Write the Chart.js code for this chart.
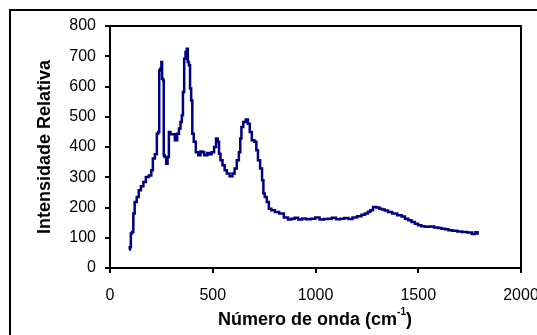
<!DOCTYPE html>
<html>
<head>
<meta charset="utf-8">
<script src="https://cdn.jsdelivr.net/npm/chart.js@4"></script>
<style>
  html, body { margin: 0; padding: 0; background: #fff; overflow: hidden; }
  #wrap { width: 537px; height: 335px; position: relative; }
</style>
</head>
<body>
<div id="wrap"><canvas id="grafico" width="537" height="335"></canvas></div>
<script>
// número de onda (cm-1)
const numeroOnda = [
  92, 100, 103, 111, 116, 124, 136, 144, 157, 168, 181, 197, 205, 212, 225, 231, 238,
  241, 249, 251, 256, 261, 262, 270, 277, 283, 290, 298, 309, 322, 332, 339, 347, 352,
  358, 364, 371, 376, 381, 387, 392, 398, 403, 412, 423, 436, 445, 455, 462, 469, 478,
  488, 501, 512, 520, 528, 533, 542, 553, 563, 574, 590, 602, 611, 623, 631, 637, 642,
  655, 666, 676, 684, 696, 709, 715, 725, 736, 744, 749, 757, 769, 777, 793, 812, 834,
  858, 875, 890, 907, 925, 945, 965, 988, 1010, 1030, 1050, 1069, 1090, 1110, 1130, 1150,
  1170, 1190, 1215, 1232, 1248, 1262, 1272, 1288, 1304, 1318, 1329, 1345, 1361, 1385,
  1410, 1428, 1443, 1460, 1475, 1492, 1507, 1524, 1540, 1565, 1589, 1605, 1621, 1640,
  1654, 1678, 1702, 1725, 1751, 1770, 1782, 1795
];
// intensidade relativa
const intensidade = [
  61, 69, 114, 119, 180, 218, 235, 257, 270, 284, 301, 306, 323, 362, 376, 444, 450,
  653, 659, 681, 626, 621, 373, 367, 345, 367, 450, 442, 442, 422, 444, 461, 483, 505,
  582, 692, 714, 725, 681, 670, 593, 554, 444, 417, 383, 373, 385, 383, 373, 373, 380,
  376, 383, 400, 428, 417, 378, 356, 340, 323, 312, 303, 312, 329, 356, 383, 428, 466,
  483, 491, 477, 450, 422, 417, 389, 356, 329, 290, 246, 235, 218, 196, 191, 185, 180,
  167, 160, 163, 166, 160, 164, 161, 163, 167, 160, 162, 163, 166, 161, 163, 165,
  162, 167, 171, 176, 180, 186, 191, 202, 200, 196, 193, 190, 185, 180,
  174, 170, 163, 158, 152, 146, 141, 138, 136, 137, 134, 132, 130, 128,
  125, 123, 121, 119, 117, 112, 118, 114
];

const xTicks = [0, 500, 1000, 1500, 2000];
const yTicks = [0, 100, 200, 300, 400, 500, 600, 700, 800];

const fonte = '"Liberation Sans", Arial, sans-serif';

// borda externa, moldura da área do gráfico e título do eixo x com sobrescrito
const molduraPlugin = {
  id: 'moldura',
  beforeDraw(chart) {
    const ctx = chart.ctx;
    ctx.save();
    ctx.fillStyle = '#fff';
    ctx.fillRect(0, 0, chart.width, chart.height);
    ctx.strokeStyle = '#000';
    ctx.lineWidth = 2;
    ctx.strokeRect(10, 10, 700, 500);
    ctx.restore();
  },
  afterDraw(chart) {
    const ctx = chart.ctx;
    const a = chart.chartArea;
    ctx.save();
    ctx.strokeStyle = '#000';
    ctx.lineWidth = 2;
    ctx.strokeRect(a.left, a.top, a.right - a.left, a.bottom - a.top);

    // título eixo x
    const base = 'Número de onda (cm';
    const sup = '-1';
    const fim = ')';
    ctx.fillStyle = '#000';
    ctx.textBaseline = 'alphabetic';
    ctx.font = 'bold 18px ' + fonte;
    const wBase = ctx.measureText(base).width;
    const wFim = ctx.measureText(fim).width;
    ctx.font = 'bold 10px ' + fonte;
    const wSup = ctx.measureText(sup).width;
    const total = wBase + wSup + wFim;
    let x = 315 - total / 2;
    const y = 325;
    ctx.font = 'bold 18px ' + fonte;
    ctx.fillText(base, x, y);
    x += wBase;
    ctx.font = 'bold 10px ' + fonte;
    ctx.fillText(sup, x, y - 10);
    x += wSup;
    ctx.font = 'bold 18px ' + fonte;
    ctx.fillText(fim, x, y);
    ctx.restore();
  }
};

const ctx = document.getElementById('grafico').getContext('2d');
new Chart(ctx, {
  type: 'line',
  data: {
    datasets: [{
      label: 'Espectro',
      data: numeroOnda.map((v, i) => ({ x: v, y: intensidade[i] })),
      borderColor: '#000080',
      borderWidth: 2.5,
      pointRadius: 0,
      stepped: 'middle',
      fill: false
    }]
  },
  options: {
    responsive: false,
    animation: false,
    layout: { padding: { left: 0, right: 16, top: 26, bottom: 0 } },
    plugins: {
      legend: { display: false },
      tooltip: { enabled: false }
    },
    scales: {
      x: {
        type: 'linear',
        min: 0,
        max: 2000,
        afterBuildTicks(scale) { scale.ticks = xTicks.map(v => ({ value: v })); },
        afterFit(scale) { scale.height = 67; scale.paddingLeft = 0; scale.paddingRight = 0; },
        border: { display: false },
        grid: { drawOnChartArea: false, drawTicks: true, tickLength: 5, color: '#000', lineWidth: 2 },
        ticks: { color: '#000', padding: 13, maxRotation: 0, callback: v => String(v), font: { family: fonte, size: 16 } }
      },
      y: {
        min: 0,
        max: 800,
        afterBuildTicks(scale) { scale.ticks = yTicks.map(v => ({ value: v })); },
        afterFit(scale) { scale.width = 110; scale.paddingTop = 0; scale.paddingBottom = 0; },
        border: { display: false },
        grid: { drawOnChartArea: false, drawTicks: true, tickLength: 5, color: '#000', lineWidth: 2 },
        ticks: { color: '#000', padding: 9, callback: v => String(v), font: { family: fonte, size: 16 } },
        title: {
          display: true,
          text: 'Intensidade Relativa',
          color: '#000',
          padding: { top: 34, bottom: 0 },
          font: { family: fonte, size: 18, weight: 'bold' }
        }
      }
    }
  },
  plugins: [molduraPlugin]
});
</script>
</body>
</html>
